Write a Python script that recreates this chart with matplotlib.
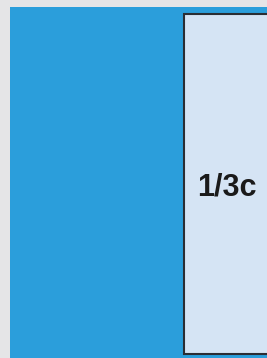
import matplotlib
matplotlib.use('Agg')
import matplotlib.pyplot as plt
from matplotlib.patches import Rectangle

plt.rcParams['font.family'] = ['Liberation Sans', 'DejaVu Sans']

# panel layout in pixel units of the picture
W, H = 267, 358
label = '1/3c'
share = 0.323           # visible part of the blue panel taken by the light box
panel_left, panel_top = 10, 7
box_top, box_bottom = 14, 354

bg_color = '#e5e5e7'
panel_color = '#2b9edb'
box_color = '#d5e4f4'
edge_color = '#2a2d33'

fig = plt.figure(figsize=(W / 100, H / 100), dpi=100)
fig.patch.set_facecolor(bg_color)
ax = fig.add_axes([0, 0, 1, 1])
ax.set_xlim(0, W)
ax.set_ylim(H, 0)
ax.axis('off')

panel_w = W - panel_left
ax.add_patch(Rectangle((panel_left, panel_top), panel_w + 5, H - panel_top + 5,
                       facecolor=panel_color, edgecolor='none'))

box_left = W - panel_w * share
ax.add_patch(Rectangle((box_left, box_top), panel_w * share + 10, box_bottom - box_top,
                       facecolor=box_color, edgecolor=edge_color, linewidth=1.5))

ax.text((box_left + W) / 2 + 1, (box_top + box_bottom) / 2 + 3, label,
        fontsize=22, fontweight='bold', color='#1a1a1a', ha='center', va='center')

fig.savefig('out.png', dpi=100, facecolor=bg_color)
